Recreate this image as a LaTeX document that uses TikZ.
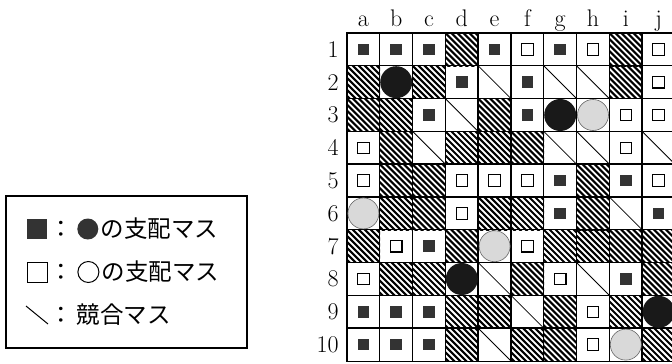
\documentclass[tikz,border=0pt]{standalone}
\usepackage{fontspec}
\newfontfamily\jpfont{Noto Sans CJK JP}
\usetikzlibrary{positioning}
\newcommand{\cellsz}{32.8}

\begin{document}
\begin{tikzpicture}[x=1pt, y=-1pt,
    cellbox/.style={rectangle, minimum size=\cellsz pt, inner sep=0pt},
    gridline/.style={line width=1.4pt, line cap=rect},
    hatchline/.style={line width=2.1pt},
    rival/.style={line width=0.8pt},
    blackdom/.style={rectangle, fill=black!80, minimum size=11.5pt, inner sep=0pt},
    whitedom/.style={rectangle, draw, line width=1.1pt, fill=white, minimum size=11.5pt, inner sep=0pt},
    blackstone/.style={circle, fill=black!90, minimum size=32pt, inner sep=0pt},
    graystone/.style={circle, draw=black!60, line width=0.6pt, fill=black!15, minimum size=31pt, inner sep=0pt},
    boardlabel/.style={font=\fontsize{24}{24}\selectfont, inner sep=0pt},
    legtext/.style={font=\jpfont\fontsize{23.5}{24}\selectfont, inner sep=0pt}
]
\useasboundingbox (0,0) rectangle (672,364);

% board cells
\foreach \cl [count=\ci] in {a,b,c,d,e,f,g,h,i,j}
  \foreach \rw in {1,...,10}
    \node[cellbox] (\cl\rw) at ({347+(\ci-0.5)*\cellsz}, {33+(\rw-0.5)*\cellsz}) {};

\foreach \cl in {a,b,c,d,e,f,g,h,i,j}
  \node[boardlabel, above=6pt of \cl1.north, anchor=base] (col\cl) {\cl};
\foreach \rw in {1,...,10}
  \node[boardlabel, left=8pt of a\rw] (row\rw) {\rw};

% hatched cells
\foreach \hc in {d1,i1,a2,c2,i2,a3,b3,e3,b4,d4,e4,f4,b5,c5,h5,b6,c6,e6,f6,h6,
                 a7,d7,g7,h7,i7,j7,b8,c8,f8,j8,d9,e9,g9,i9,d10,f10,g10,j10}{
  \begin{scope}
    \clip (\hc.north west) rectangle (\hc.south east);
    \foreach \t in {-36,-30,...,36}
      \draw[hatchline] ([shift={(\t-3,-3)}]\hc.north west) -- ++(40,40);
  \end{scope}
}

% contested cells
\foreach \dg in {e2,g2,h2,d3,c4,g4,h4,j4,i6,e8,h8,f9,e10}
  \draw[rival] (\dg.north west) -- (\dg.south east);

\foreach \bq in {a1,b1,c1,e1,g1,d2,f2,c3,f3,g5,i5,g6,j6,c7,i8,a9,b9,c9,a10,b10,c10}
  \node[blackdom] (bd\bq) at (\bq) {};
\foreach \wq in {f1,h1,j1,j2,i3,j3,a4,i4,a5,d5,e5,f5,j5,d6,b7,f7,a8,g8,h9,h10}
  \node[whitedom] (wd\wq) at (\wq) {};

% grid
\foreach \cl in {a,b,c,d,e,f,g,h,i,j}
  \draw[gridline] (\cl1.north west) -- (\cl10.south west);
\draw[gridline] (j1.north east) -- (j10.south east);
\foreach \rw in {1,...,10}
  \draw[gridline] (a\rw.north west) -- (j\rw.north east);
\draw[gridline] (a10.south west) -- (j10.south east);

% stones
\foreach \ks in {b2,g3,d8,j9}
  \node[blackstone] (bs\ks) at (\ks) {};
\foreach \gs in {h3,a6,e7,i10}
  \node[graystone] (gs\gs) at (\gs) {};

% legend
\node[draw, line width=1.3pt, minimum width=241pt, minimum height=152pt, inner sep=0pt] (legend) at (126.5,272) {};

\node[blackdom, minimum size=20pt] (keyblack) at (37,229) {};
\node[legtext, right=2pt of keyblack] (colon1) {：};
\node[circle, fill=black!80, minimum size=21pt, inner sep=0pt, right=4pt of colon1] (keydot) {};
\node[legtext, right=2pt of keydot] (text1) {の支配マス};

\node[whitedom, minimum size=20pt, line width=1pt] (keywhite) at (37,272) {};
\node[legtext, right=2pt of keywhite] (colon2) {：};
\node[circle, draw, line width=1pt, minimum size=21pt, inner sep=0pt, right=4pt of colon2] (keyring) {};
\node[legtext, right=2pt of keyring] (text2) {の支配マス};

\coordinate (keyrival) at (37,315);
\draw[line width=1pt] ([shift={(-11,-9)}]keyrival) -- ([shift={(11,9)}]keyrival);
\node[legtext] (colon3) at (colon2 |- keyrival) {：};
\node[legtext, right=3pt of colon3] (text3) {競合マス};
\end{tikzpicture}
\end{document}
